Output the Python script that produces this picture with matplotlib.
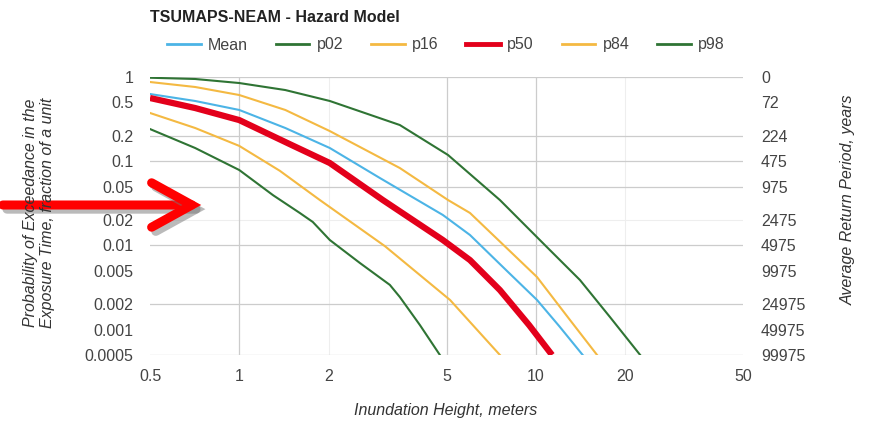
import matplotlib
matplotlib.use("Agg")
import matplotlib.pyplot as plt
import matplotlib.patheffects as pe
from matplotlib.patches import FancyArrowPatch

plt.rcParams['font.family'] = ['Liberation Sans', 'DejaVu Sans']

# hazard curves (inundation height in m, probability)
mean_x = [0.5, 0.71, 1.0, 1.43, 2.02, 2.98, 4.86, 6.0, 8.0, 10.1, 12.0, 14.4]
mean_y = [0.628, 0.519, 0.406, 0.248, 0.1435, 0.0632, 0.023, 0.0133, 0.00497, 0.00225, 0.0011, 0.0005]

p02_x = [0.5, 0.71, 1.0, 1.3, 1.6, 1.77, 2.02, 2.55, 3.22, 3.48, 4.07, 4.75]
p02_y = [0.241, 0.1435, 0.0786, 0.0395, 0.0243, 0.019, 0.0116, 0.0062, 0.0034, 0.00244, 0.00113, 0.0005]

p16_x = [0.5, 0.71, 1.0, 1.37, 1.87, 3.1, 5.14, 7.57]
p16_y = [0.374, 0.248, 0.152, 0.077, 0.0346, 0.0098, 0.00225, 0.0005]

p50_x = [0.5, 0.71, 1.0, 1.5, 2.02, 3.05, 4.86, 6.0, 7.57, 9.5, 11.35]
p50_y = [0.563, 0.428, 0.308, 0.156, 0.0952, 0.0346, 0.0116, 0.0067, 0.00295, 0.00113, 0.0005]

p84_x = [0.5, 0.71, 1.0, 1.43, 2.02, 3.48, 5.06, 6.0, 10.1, 13.05, 16.1]
p84_y = [0.872, 0.761, 0.611, 0.406, 0.228, 0.083, 0.0346, 0.0243, 0.00421, 0.0013, 0.0005]

p98_x = [0.5, 0.71, 1.0, 1.43, 2.02, 3.48, 5.06, 7.57, 10.9, 14.1, 17.8, 22.5]
p98_y = [0.98, 0.947, 0.848, 0.70, 0.519, 0.269, 0.1185, 0.0346, 0.00957, 0.00388, 0.00141, 0.0005]

x_ticks = [0.5, 1, 2, 5, 10, 20, 50]
x_labels = ['0.5', '1', '2', '5', '10', '20', '50']
y_ticks = [1, 0.5, 0.2, 0.1, 0.05, 0.02, 0.01, 0.005, 0.002, 0.001, 0.0005]
y_labels = ['1', '0.5', '0.2', '0.1', '0.05', '0.02', '0.01', '0.005', '0.002', '0.001', '0.0005']
rp_labels = ['0', '72', '224', '475', '975', '2475', '4975', '9975', '24975', '49975', '99975']

grid_y = [1, 0.2, 0.1, 0.05, 0.01, 0.002, 0.0005]
grid_x = [1, 5, 10]

blue = '#4cb4e6'
green = '#2f7434'
orange = '#f4b942'
red = '#e3001b'
fs = 11.5

fig = plt.figure(figsize=(8.74, 4.21), dpi=100)
ax = fig.add_axes([150/874, 1-355/421, 593/874, 278/421])
ax.set_xscale('log')
ax.set_yscale('log')
ax.set_xlim(0.5, 50)
ax.set_ylim(0.0005, 1)

for v in [2, 20]:
    ax.axvline(v, color='#eeeeee', lw=0.8, zorder=0)
ax.axhline(0.02, color='#eeeeee', lw=0.8, zorder=0)
for v in grid_x:
    ax.axvline(v, color='#cccccc', lw=0.9, zorder=0)
for v in grid_y:
    ax.axhline(v, color='#cccccc', lw=0.9, zorder=0)

ax.plot(p98_x, p98_y, color=green, lw=1.5)
ax.plot(p84_x, p84_y, color=orange, lw=1.5)
ax.plot(p16_x, p16_y, color=orange, lw=1.5)
ax.plot(p02_x, p02_y, color=green, lw=1.5)
ax.plot(mean_x, mean_y, color=blue, lw=1.5)
ax.plot(p50_x, p50_y, color=red, lw=4.5, solid_capstyle='butt')

for s in ax.spines.values():
    s.set_visible(False)
ax.set_xticks(x_ticks)
ax.set_xticklabels(x_labels)
ax.set_xticks([], minor=True)
ax.set_yticks(y_ticks)
ax.set_yticklabels(y_labels)
ax.set_yticks([], minor=True)
ax.tick_params(length=0, labelsize=fs, labelcolor='#444444')
ax.tick_params(axis='x', pad=10)
ax.tick_params(axis='y', pad=12)

ax2 = ax.twinx()
ax2.set_yscale('log')
ax2.set_ylim(0.0005, 1)
ax2.set_yticks(y_ticks)
ax2.set_yticklabels(rp_labels)
ax2.set_yticks([], minor=True)
ax2.tick_params(length=0, labelsize=fs, labelcolor='#444444', pad=13)
for s in ax2.spines.values():
    s.set_visible(False)

# legend
handles = [
    plt.Line2D([], [], color=blue, lw=2),
    plt.Line2D([], [], color=green, lw=2),
    plt.Line2D([], [], color=orange, lw=2),
    plt.Line2D([], [], color=red, lw=3.5),
    plt.Line2D([], [], color=orange, lw=2),
    plt.Line2D([], [], color=green, lw=2),
]
names = ['Mean', 'p02', 'p16', 'p50', 'p84', 'p98']
leg = fig.legend(handles, names, ncol=6, frameon=False, loc='center',
                 bbox_to_anchor=(446/874, 1-45/421), fontsize=fs,
                 handlelength=2.1, handletextpad=0.45, columnspacing=1.75)
for t in leg.get_texts():
    t.set_color('#444444')

fig.text(150/874, 1-17/421, 'TSUMAPS-NEAM - Hazard Model', fontsize=11.5,
         fontweight='bold', color='#222222', ha='left', va='center')
fig.text(39/874, 1-213/421, 'Probability of Exceedance in the\nExposure Time, fraction of a unit',
         rotation=90, fontsize=fs, style='italic', color='#333333',
         ha='center', va='center', linespacing=1.2)
fig.text(848/874, 1-200/421, 'Average Return Period, years', rotation=90,
         fontsize=fs, style='italic', color='#333333', ha='center', va='center')
fig.text(446/874, 1-410/421, 'Inundation Height, meters', fontsize=fs,
         style='italic', color='#333333', ha='center', va='center')

# red pointer arrow overlaid on the picture
arrow = FancyArrowPatch((0/874, 1-205/421), (204/874, 1-205/421),
                        transform=fig.transFigure,
                        arrowstyle='->,head_length=2.9,head_width=1.6',
                        mutation_scale=10, color='#ff0000', lw=6.5,
                        capstyle='round', joinstyle='miter')
arrow.set_path_effects([pe.SimpleLineShadow(offset=(3, -3), shadow_color='#777777', alpha=0.5),
                        pe.Normal()])
fig.add_artist(arrow)

fig.savefig('out.png', dpi=100)
